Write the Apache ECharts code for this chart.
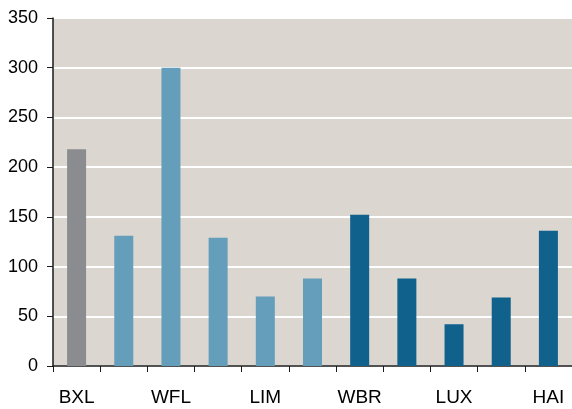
<!DOCTYPE html>
<html>
<head>
<meta charset="utf-8">
<script src="https://cdn.jsdelivr.net/npm/echarts@6/dist/echarts.min.js"></script>
<style>
  html, body { margin: 0; padding: 0; background: #fff; }
  #main { width: 572px; height: 409px; }
</style>
</head>
<body>
<div id="main"></div>
<script>
// regions (only every other label is printed in the original)
var categories = ['BXL', 'ANT', 'WFL', 'OVL', 'LIM', 'VBR', 'WBR', 'LIE', 'LUX', 'NAM', 'HAI'];
var values = [218, 131, 300, 129, 70, 88, 152, 88, 42, 69, 136];
var groups = ['bxl', 'fl', 'fl', 'fl', 'fl', 'fl', 'wal', 'wal', 'wal', 'wal', 'wal'];
var yTicks = [0, 50, 100, 150, 200, 250, 300, 350];

var groupColors = { bxl: '#8b8c90', fl: '#649eba', wal: '#10618c' };

var myChart = echarts.init(document.getElementById('main'), null, { renderer: 'canvas' });

var option = {
  animation: false,
  backgroundColor: '#ffffff',
  textStyle: { fontFamily: 'Liberation Sans, Arial, sans-serif' },
  grid: {
    left: 53, right: 0, top: 18, bottom: 43,
    show: true, backgroundColor: '#dbd6d0', borderWidth: 0
  },
  xAxis: {
    type: 'category',
    data: categories,
    axisLine: { lineStyle: { color: '#1a1a1a', width: 1.5 } },
    axisTick: { show: true, interval: 0, length: 6, lineStyle: { color: '#1a1a1a', width: 1 } },
    axisLabel: { interval: 1, color: '#000', fontSize: 19, margin: 22 },
    splitLine: { show: false }
  },
  yAxis: {
    type: 'value',
    min: yTicks[0],
    max: yTicks[yTicks.length - 1],
    interval: 50,
    axisLine: { show: true, lineStyle: { color: '#1a1a1a', width: 1.5 } },
    axisTick: { show: true, length: 6, lineStyle: { color: '#1a1a1a', width: 1 } },
    axisLabel: { color: '#000', fontSize: 18, margin: 15 },
    splitLine: { lineStyle: { color: '#ffffff', width: 2 } }
  },
  series: [{
    type: 'bar',
    barWidth: 19,
    data: values.map(function (v, i) {
      return { value: v, itemStyle: { color: groupColors[groups[i]] } };
    })
  }]
};

myChart.setOption(option);
</script>
</body>
</html>
